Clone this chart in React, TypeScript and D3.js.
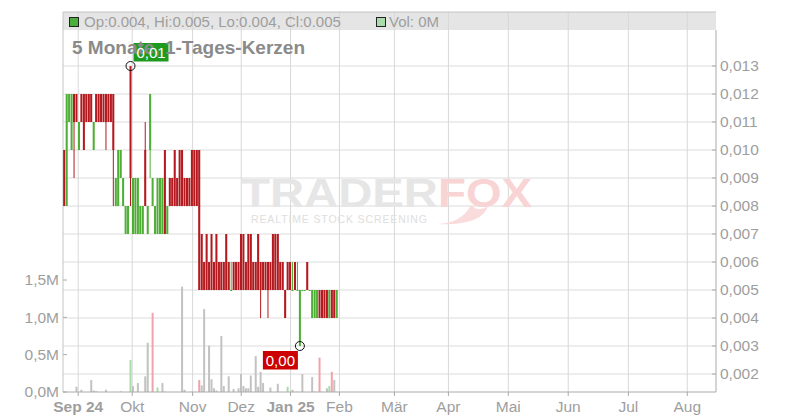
import React from 'react';
import * as d3 from 'd3';

// one entry per trading-day candle (EUR)
const opens = [
  0.010, 0.008, 0.011, 0.010, 0.012, 0.012, 0.010, 0.012, 0.012, 0.012,
  0.012, 0.012, 0.010, 0.012, 0.012, 0.012, 0.012, 0.012, 0.012, 0.012,
  0.012, 0.008, 0.008, 0.009, 0.008, 0.007, 0.007, 0.013, 0.007, 0.007,
  0.007, 0.007, 0.007, 0.010, 0.007, 0.010, 0.008, 0.007, 0.007, 0.007,
  0.007, 0.010, 0.007, 0.009, 0.009, 0.010, 0.009, 0.010, 0.010, 0.009,
  0.009, 0.009, 0.010, 0.010, 0.010, 0.010, 0.007, 0.006, 0.007, 0.006,
  0.007, 0.006, 0.007, 0.006, 0.006, 0.006, 0.007, 0.006, 0.005, 0.006,
  0.006, 0.006, 0.007, 0.007, 0.006, 0.007, 0.007, 0.006, 0.006, 0.007,
  0.006, 0.006, 0.006, 0.006, 0.006, 0.007, 0.007, 0.007, 0.006, 0.006,
  0.005, 0.006, 0.006, 0.005, 0.006, 0.005, 0.003, 0.005, 0.005, 0.006,
  0.005, 0.004, 0.004, 0.004, 0.005, 0.005, 0.005, 0.005, 0.004, 0.005,
  0.005, 0.004,
];
const highs = [
  0.010, 0.012, 0.012, 0.012, 0.012, 0.012, 0.011, 0.012, 0.012, 0.012,
  0.012, 0.012, 0.011, 0.012, 0.012, 0.012, 0.012, 0.012, 0.012, 0.012,
  0.012, 0.009, 0.010, 0.010, 0.009, 0.008, 0.008, 0.013, 0.009, 0.009,
  0.009, 0.008, 0.008, 0.011, 0.008, 0.012, 0.009, 0.008, 0.009, 0.009,
  0.009, 0.010, 0.008, 0.009, 0.009, 0.010, 0.009, 0.010, 0.010, 0.009,
  0.009, 0.009, 0.010, 0.010, 0.010, 0.010, 0.007, 0.006, 0.007, 0.006,
  0.007, 0.006, 0.007, 0.006, 0.006, 0.006, 0.007, 0.006, 0.006, 0.006,
  0.006, 0.006, 0.007, 0.007, 0.006, 0.007, 0.007, 0.006, 0.006, 0.007,
  0.006, 0.006, 0.006, 0.006, 0.006, 0.007, 0.007, 0.007, 0.006, 0.006,
  0.005, 0.006, 0.006, 0.006, 0.006, 0.006, 0.005, 0.005, 0.005, 0.006,
  0.005, 0.005, 0.005, 0.005, 0.005, 0.005, 0.005, 0.005, 0.005, 0.005,
  0.005, 0.005,
];
const lows = [
  0.008, 0.008, 0.011, 0.010, 0.009, 0.011, 0.010, 0.011, 0.010, 0.011,
  0.011, 0.011, 0.010, 0.011, 0.011, 0.011, 0.011, 0.010, 0.011, 0.011,
  0.008, 0.008, 0.008, 0.009, 0.008, 0.007, 0.007, 0.008, 0.007, 0.007,
  0.007, 0.007, 0.007, 0.008, 0.007, 0.009, 0.008, 0.007, 0.007, 0.007,
  0.007, 0.007, 0.007, 0.008, 0.008, 0.008, 0.008, 0.008, 0.008, 0.008,
  0.008, 0.008, 0.008, 0.008, 0.008, 0.005, 0.005, 0.005, 0.005, 0.005,
  0.005, 0.005, 0.005, 0.005, 0.005, 0.005, 0.005, 0.005, 0.005, 0.005,
  0.005, 0.005, 0.005, 0.005, 0.005, 0.005, 0.005, 0.005, 0.005, 0.005,
  0.004, 0.005, 0.005, 0.004, 0.005, 0.005, 0.005, 0.005, 0.005, 0.005,
  0.004, 0.005, 0.005, 0.005, 0.005, 0.005, 0.003, 0.005, 0.005, 0.005,
  0.005, 0.004, 0.004, 0.004, 0.004, 0.004, 0.004, 0.004, 0.004, 0.004,
  0.004, 0.004,
];
const closes = [
  0.008, 0.012, 0.012, 0.012, 0.011, 0.011, 0.011, 0.011, 0.010, 0.011,
  0.011, 0.011, 0.011, 0.011, 0.011, 0.011, 0.011, 0.011, 0.011, 0.011,
  0.010, 0.009, 0.010, 0.010, 0.009, 0.008, 0.008, 0.009, 0.009, 0.009,
  0.009, 0.008, 0.008, 0.008, 0.008, 0.012, 0.009, 0.008, 0.009, 0.009,
  0.009, 0.007, 0.008, 0.008, 0.008, 0.008, 0.008, 0.008, 0.008, 0.008,
  0.008, 0.008, 0.008, 0.008, 0.008, 0.005, 0.005, 0.005, 0.005, 0.005,
  0.005, 0.005, 0.005, 0.005, 0.005, 0.005, 0.005, 0.005, 0.005, 0.005,
  0.005, 0.005, 0.005, 0.005, 0.005, 0.005, 0.005, 0.005, 0.005, 0.005,
  0.005, 0.005, 0.005, 0.005, 0.005, 0.005, 0.005, 0.005, 0.005, 0.005,
  0.004, 0.005, 0.005, 0.005, 0.005, 0.005, 0.005, 0.005, 0.005, 0.005,
  0.005, 0.005, 0.005, 0.005, 0.004, 0.004, 0.004, 0.004, 0.005, 0.004,
  0.004, 0.005,
];
const volumes = [
  0, 0, 0, 0, 0, 70000, 0, 30000, 0, 0,
  0, 160000, 20000, 10000, 0, 0, 0, 30000, 0, 0,
  0, 0, 0, 10000, 0, 0, 0, 430000, 80000, 0,
  120000, 0, 0, 210000, 660000, 0, 1060000, 0, 60000, 0,
  120000, 5000, 0, 0, 0, 0, 0, 0, 1410000, 30000,
  0, 0, 5000, 0, 0, 160000, 90000, 1110000, 0, 620000,
  170000, 50000, 20000, 0, 750000, 80000, 0, 210000, 0, 40000,
  0, 50000, 240000, 80000, 50000, 50000, 220000, 0, 480000, 70000,
  270000, 120000, 0, 0, 60000, 0, 0, 110000, 0, 0,
  0, 70000, 0, 30000, 0, 5000, 0, 240000, 0, 0,
  0, 200000, 5000, 0, 460000, 5000, 0, 50000, 80000, 270000,
  160000, 3000,
];

const monthLabels = ['Sep 24', 'Okt', 'Nov', 'Dez', 'Jan 25', 'Feb', 'Mär', 'Apr', 'Mai', 'Jun', 'Jul', 'Aug'];
// candle-slot position of each month start (future months on the weekday grid)
const monthSlots = [6.2, 28.2, 52.8, 72.6, 92.7, 112.6, 135.0, 157.0, 181.4, 205.8, 230.3, 254.3];
const boldMonths = ['Sep 24', 'Jan 25'];
const priceTicks = [0.002, 0.003, 0.004, 0.005, 0.006, 0.007, 0.008, 0.009, 0.010, 0.011, 0.012, 0.013];
const volumeTicks = [0, 500000, 1000000, 1500000];

const W = 800;
const H = 420;
const left = 63;
const right = 716;
const top = 12;
const bottom = 392;
const totalSlots = 266;

const RED = '#b3191e';
const GREEN = '#4fae36';
const FONT = '"Liberation Sans", Arial, sans-serif';
const TXT = '#9e9e9e';

const fmtPrice = (v: number) => d3.format('.3f')(v).replace('.', ',');
const fmtVol = (v: number) => d3.format('.1f')(v / 1e6).replace('.', ',') + 'M';

export default function App() {
  const x = d3.scaleLinear().domain([0, totalSlots]).range([left, right]);
  const y = d3.scaleLinear().domain([0.002, 0.013]).range([374, 66]);
  const yv = d3.scaleLinear().domain([0, 1500000]).range([bottom, 280]);
  const bw = 2;

  const n = closes.length;
  const cx = (i: number) => x(i + 0.5);
  const last = n - 1;
  const hiIdx = d3.maxIndex(highs);
  const loIdx = d3.minIndex(lows);

  const volColor = (i: number) => {
    if (i === 0 || closes[i] === closes[i - 1]) return '#c2c2c2';
    return closes[i] > closes[i - 1] ? '#a9dca9' : '#f1a3ab';
  };

  const legendText =
    `Op:${d3.format('.3f')(opens[last])}, Hi:${d3.format('.3f')(highs[last])}, ` +
    `Lo:${d3.format('.3f')(lows[last])}, Cl:${d3.format('.3f')(closes[last])}`;

  return (
    <svg width={W} height={H} style={{ position: 'absolute', left: 0, top: 0, background: '#fff' }} fontFamily={FONT}>
      {/* legend band */}
      <rect x={left} y={top} width={right - left} height={18} fill="#e5e5e5" />

      {/* grid */}
      {priceTicks.map((t) => (
        <line key={'h' + t} x1={left} x2={right} y1={y(t)} y2={y(t)} stroke="#dcdcdc" />
      ))}
      {monthSlots.map((s, i) => (
        <line key={'v' + i} x1={x(s)} x2={x(s)} y1={top} y2={bottom} stroke="#d8d8d8" />
      ))}
      <line x1={left} x2={right} y1={top} y2={top} stroke="#c4c4c4" />
      <line x1={left} x2={left} y1={top} y2={bottom} stroke="#c4c4c4" />

      {/* watermark */}
      <g fontWeight="bold">
        <text x={241} y={207} fontSize={41} fill="#e6e6e6" textLength={197} lengthAdjust="spacingAndGlyphs">TRADER</text>
        <text x={438} y={207} fontSize={41} fill="#f9d4d4" textLength={94} lengthAdjust="spacingAndGlyphs">FOX</text>
      </g>
      <path d="M437 224 Q462 223 471 205 Q479 213 488 206 Q482 226 437 224 Z" fill="#fbdcdc" />
      <text x={251} y={223} fontSize={10.5} fill="#dedede" textLength={176} lengthAdjust="spacing">REALTIME STOCK SCREENING</text>

      {/* volume */}
      {volumes.map((v, i) => (
        v > 0 ? (
          <rect key={'vol' + i} x={cx(i) - bw / 2} y={yv(v)} width={bw} height={bottom - yv(v)} fill={volColor(i)} />
        ) : null
      ))}

      {/* candles */}
      {closes.map((c, i) => {
        const o = opens[i];
        const up = c >= o;
        const col = up ? GREEN : RED;
        const yTop = y(Math.max(o, c));
        const h = Math.max(1, Math.abs(y(o) - y(c)));
        return (
          <g key={'c' + i}>
            <line x1={cx(i)} x2={cx(i)} y1={y(highs[i])} y2={y(lows[i])} stroke={col} strokeWidth={1} />
            <rect x={cx(i) - bw / 2} y={yTop} width={bw} height={h} fill={col} />
          </g>
        );
      })}

      {/* axes */}
      <line x1={left} x2={right} y1={bottom} y2={bottom} stroke="#aaa" />
      <line x1={right} x2={right} y1={30} y2={bottom} stroke="#aaa" />
      {priceTicks.map((t) => (
        <g key={'pt' + t}>
          <line x1={right - 4} x2={right} y1={y(t)} y2={y(t)} stroke="#aaa" />
          <text x={720} y={y(t)} dy="0.35em" fontSize={15.5} fill={TXT}>{fmtPrice(t)}</text>
        </g>
      ))}
      {volumeTicks.map((t) => (
        <g key={'vt' + t}>
          <line x1={left} x2={left + 4} y1={yv(t)} y2={yv(t)} stroke="#aaa" />
          <text x={59} y={yv(t)} dy="0.35em" textAnchor="end" fontSize={15.5} fill={TXT}>{fmtVol(t)}</text>
        </g>
      ))}
      {monthSlots.map((s, i) => (
        <g key={'mt' + i}>
          <line x1={x(s)} x2={x(s)} y1={bottom} y2={bottom + 4} stroke="#aaa" />
          <text x={x(s)} y={412} textAnchor="middle" fontSize={15.5} fill={TXT}
            fontWeight={boldMonths.includes(monthLabels[i]) ? 'bold' : 'normal'}>{monthLabels[i]}</text>
        </g>
      ))}

      {/* max / min markers */}
      <rect x={cx(hiIdx) + 3} y={y(highs[hiIdx]) - 23} width={35} height={18.5} fill="#1e9a1e" />
      <text x={72} y={54} fontSize={19} fontWeight="bold" fill="#8a8a8a">5 Monate, 1-Tages-Kerzen</text>
      <text x={cx(hiIdx) + 20.5} y={y(highs[hiIdx]) - 8.5} textAnchor="middle" fontSize={15} fill="#fff">
        {d3.format('.2f')(highs[hiIdx]).replace('.', ',')}
      </text>
      <circle cx={cx(hiIdx)} cy={y(highs[hiIdx])} r={4.5} fill="none" stroke="#111" />

      <rect x={cx(loIdx) - 37} y={y(lows[loIdx]) + 5} width={35} height={18.5} fill="#cc0000" />
      <text x={cx(loIdx) - 19.5} y={y(lows[loIdx]) + 19.5} textAnchor="middle" fontSize={15} fill="#fff">
        {d3.format('.2f')(lows[loIdx]).replace('.', ',')}
      </text>
      <circle cx={cx(loIdx)} cy={y(lows[loIdx])} r={4.5} fill="none" stroke="#111" />

      {/* legend */}
      <rect x={69.5} y={17.5} width={9} height={9} fill="#4cae3c" stroke="#222" />
      <text x={84} y={26.5} fontSize={15} fill={TXT}>{legendText}</text>
      <rect x={376.5} y={17.5} width={9} height={9} fill="#a9dca9" stroke="#222" />
      <text x={389} y={26.5} fontSize={15} fill={TXT}>{`Vol: ${Math.round(volumes[last] / 1e6)}M`}</text>
    </svg>
  );
}
